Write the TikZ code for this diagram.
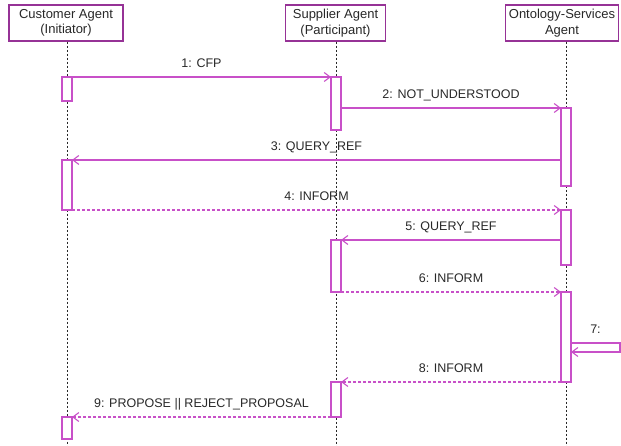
\documentclass[tikz,border=0pt]{standalone}
\usepackage{fontspec}
\setmainfont{Liberation Sans}
\usetikzlibrary{arrows.meta}
\definecolor{boxpurple}{RGB}{150,50,150}
\definecolor{msgpurple}{RGB}{200,80,200}
\definecolor{txtgray}{RGB}{40,40,40}

\begin{document}
\begin{tikzpicture}[x=1pt, y=-1pt,
  every node/.style={font=\fontsize{12.5}{15}\selectfont, text=txtgray},
  agent/.style={draw=boxpurple, line width=1.4pt, fill=white, minimum height=36pt, align=center, inner sep=1pt, font=\fontsize{13}{15.5}\selectfont},
  act/.style={draw=msgpurple, line width=1.2pt, fill=white, minimum width=10pt, inner sep=0pt, outer sep=0pt, anchor=north},
  life/.style={draw=txtgray, line width=0.7pt, dash pattern=on 2pt off 2pt},
  msg/.style={draw=msgpurple, line width=1.1pt, -{Straight Barb[length=6pt,width=9pt]}},
  reply/.style={msg, dash pattern=on 3pt off 2pt},
  lbl/.style={above=8.5pt, inner sep=0pt, text depth=0pt}]
  \useasboundingbox (0,0) rectangle (621,446);

  \node [agent, minimum width=114pt] (cust) at (66,23) {Customer Agent\\(Initiator)};
  \node [agent, minimum width=100pt] (supp) at (335.5,23) {Supplier Agent\\(Participant)};
  \node [agent, minimum width=113pt] (onto) at (562,23) {Ontology-Services\\Agent};

  \coordinate (custEnd) at (67,446);
  \coordinate (suppEnd) at (336,446);
  \coordinate (ontoEnd) at (566,446);
  \draw [life] (cust.south -| custEnd) -- (custEnd);
  \draw [life] (supp.south -| suppEnd) -- (suppEnd);
  \draw [life] (onto.south -| ontoEnd) -- (ontoEnd);

  \node [act, minimum height=24pt] (c1) at (67,77) {};
  \node [act, minimum height=50pt] (c2) at (67,160) {};
  \node [act, minimum height=22pt] (c3) at (67,417) {};
  \node [act, minimum height=53pt] (s1) at (336,77) {};
  \node [act, minimum height=52pt] (s2) at (336,240) {};
  \node [act, minimum height=35pt] (s3) at (336,382) {};
  \node [act, minimum height=78pt] (o1) at (566,108) {};
  \node [act, minimum height=55pt] (o2) at (566,210) {};
  \node [act, minimum height=90pt] (o3) at (566,292) {};

  \draw [msg] (c1.north east) -- node [lbl] {1: CFP} (s1.north west);
  \draw [msg] (s1.east |- o1.north) -- node [lbl] {2: NOT\_UNDERSTOOD} (o1.north west);
  \draw [msg] (o1.west |- c2.north) -- node [lbl] {3: QUERY\_REF} (c2.north east);
  \draw [reply] (c2.south east) -- node [lbl] {4: INFORM} (o2.north west);
  \draw [msg] (o2.west |- s2.north) -- node [lbl] {5: QUERY\_REF} (s2.north east);
  \draw [reply] (s2.south east) -- node [lbl] {6: INFORM} (o3.north west);
  \coordinate (selfTop) at (620,343);
  \coordinate (selfBot) at (620,352);
  \draw [msg] (o3.east |- selfTop) -- node [lbl] {7:} (selfTop) -- (selfBot) -- (o3.east |- selfBot);
  \draw [reply] (o3.south west) -- node [lbl] {8: INFORM} (s3.north east);
  \draw [reply] (s3.south west) -- node [lbl] {9: PROPOSE || REJECT\_PROPOSAL} (c3.north east);
\end{tikzpicture}
\end{document}
